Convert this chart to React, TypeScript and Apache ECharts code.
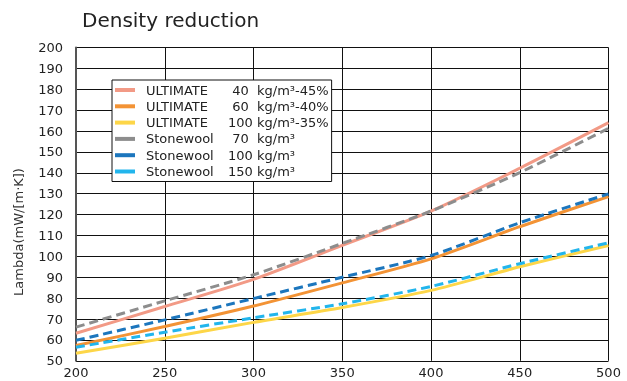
import React, { useEffect, useRef } from "react";
import * as echarts from "echarts";

const densityTicks = [200, 250, 300, 350, 400, 450, 500];

const ultimate40 = [63.2, 76.0, 89.0, 105.3, 121.7, 142.2, 164.0];
const ultimate60 = [57.3, 66.4, 76.2, 87.3, 98.8, 114.2, 128.6];
const ultimate100 = [53.6, 60.8, 68.4, 75.5, 83.7, 95.0, 105.2];
const stonewool70 = [66.1, 78.7, 91.2, 106.2, 121.7, 140.1, 161.3];
const stonewool100 = [59.8, 69.6, 79.8, 90.0, 100.4, 116.1, 129.9];
const stonewool150 = [56.5, 63.7, 70.6, 77.3, 85.6, 96.5, 106.5];

const seriesProducts = ["ULTIMATE", "ULTIMATE", "ULTIMATE", "Stonewool", "Stonewool", "Stonewool"];
const seriesDensities = ["40", "60", "100", "70", "100", "150"];
const seriesUnits = ["kg/m³-45%", "kg/m³-40%", "kg/m³-35%", "kg/m³", "kg/m³", "kg/m³"];
const seriesColors = ["#f29a86", "#f39335", "#fdd648", "#8d8d8d", "#1c76bd", "#22b5ec"];
const seriesDashed = [false, false, false, true, true, true];
const seriesValues = [ultimate40, ultimate60, ultimate100, stonewool70, stonewool100, stonewool150];

const FONT = "DejaVu Sans";

export default function App() {
  const ref = useRef<HTMLDivElement>(null);
  useEffect(() => {
    if (!ref.current) return;
    const chart = echarts.init(ref.current, undefined, { renderer: "svg" });
    const names = seriesProducts.map((p, i) => `${p} ${seriesDensities[i]} ${seriesUnits[i]}`);
    const series = seriesValues.map((vals, i) => ({
      name: names[i],
      type: "line",
      data: vals.map((v, j) => [densityTicks[j], v]),
      smooth: 0.25,
      symbol: "none",
      lineStyle: {
        color: seriesColors[i],
        width: 3,
        type: seriesDashed[i] ? [9, 5] : "solid",
      },
      itemStyle: { color: seriesColors[i] },
      z: seriesDashed[i] ? 3 : 2,
    }));
    chart.setOption({
      animation: false,
      title: {
        text: "Density reduction",
        left: 82,
        top: 9,
        padding: 0,
        textStyle: { fontFamily: FONT, fontSize: 20, fontWeight: "normal", color: "#222", lineHeight: 22 },
      },
      grid: { left: 76, right: 18.5, top: 47.5, bottom: 20.2, containLabel: false },
      legend: {
        orient: "vertical",
        left: 112,
        top: 80,
        padding: [3, 3, 3, 3],
        borderColor: "#111",
        borderWidth: 1,
        backgroundColor: "#fff",
        itemWidth: 20,
        itemHeight: 4,
        itemGap: 2.3,
        icon: "rect",
        data: names,
        formatter: (name: string) => {
          const i = names.indexOf(name);
          return `{n|${seriesProducts[i]}}{v|${seriesDensities[i]}}{u|${seriesUnits[i]}}`;
        },
        textStyle: {
          fontFamily: FONT,
          fontSize: 13,
          color: "#222",
          lineHeight: 14,
          rich: {
            n: { fontFamily: FONT, fontSize: 13, color: "#222", width: 82, padding: [0, 0, 0, 6], lineHeight: 14 },
            v: { fontFamily: FONT, fontSize: 13, color: "#222", width: 25, align: "right", lineHeight: 14 },
            u: { fontFamily: FONT, fontSize: 13, color: "#222", padding: [0, 0, 0, 4], lineHeight: 14 },
          },
        },
      },
      xAxis: {
        type: "value",
        min: 200,
        max: 500,
        interval: 50,
        axisLine: { show: false },
        axisTick: { show: false },
        splitLine: { show: true, lineStyle: { color: "#111", width: 1 } },
        axisLabel: { fontFamily: FONT, fontSize: 13, color: "#222", margin: 5 },
      },
      yAxis: {
        type: "value",
        min: 50,
        max: 200,
        interval: 10,
        axisLine: { show: true, lineStyle: { color: "#555", width: 2 } },
        axisTick: { show: false },
        splitLine: { show: true, lineStyle: { color: "#111", width: 1 } },
        axisLabel: { fontFamily: FONT, fontSize: 13, color: "#222", margin: 13 },
      },
      graphic: [
        {
          type: "text",
          x: 18,
          y: 232,
          rotation: Math.PI / 2,
          style: {
            text: "Lambda(mW/[m·K])",
            fontFamily: FONT,
            fontSize: 13,
            fill: "#333",
            textAlign: "center",
            textVerticalAlign: "middle",
          },
        },
      ],
      series,
    });
    return () => chart.dispose();
  }, []);
  return <div ref={ref} style={{ position: "fixed", left: 0, top: 0, width: 627, height: 381 }} />;
}
